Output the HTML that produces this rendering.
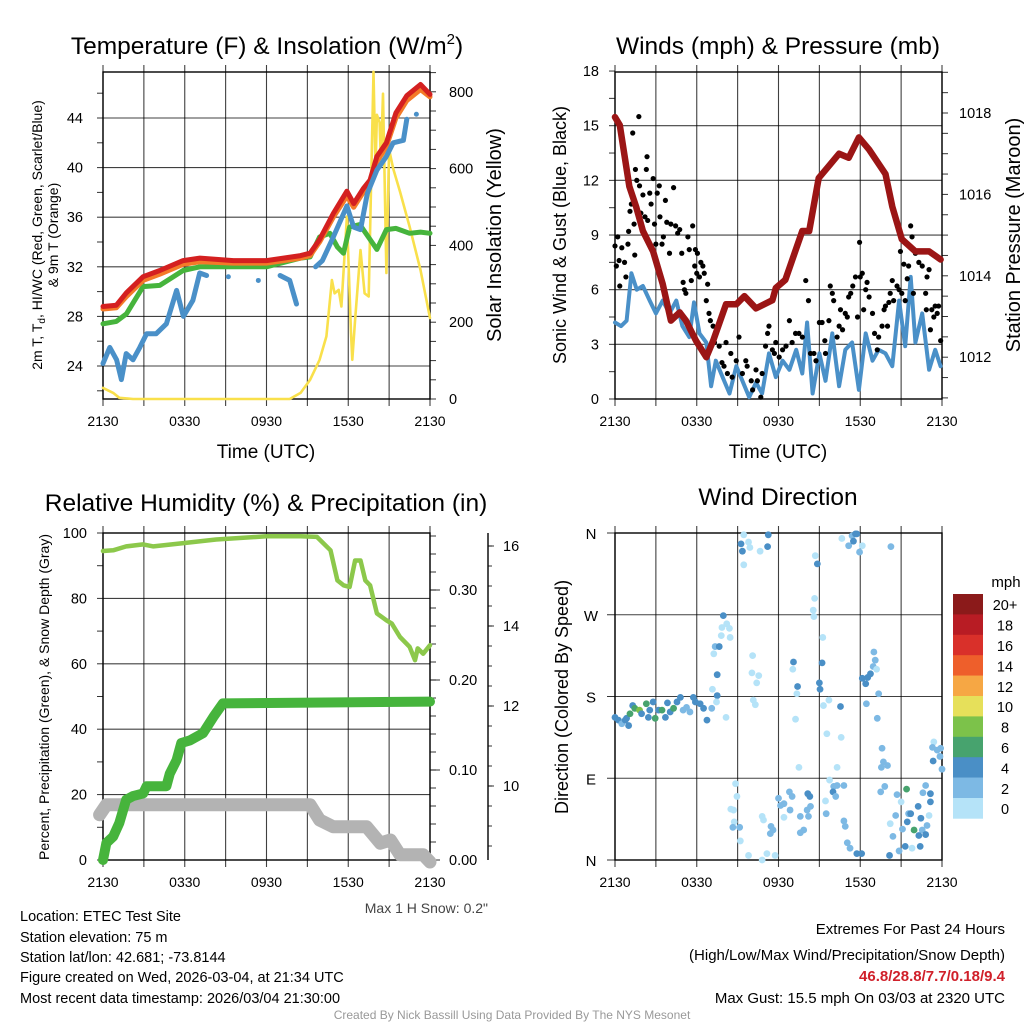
<!DOCTYPE html>
<html><head><meta charset="utf-8">
<style>
html,body{margin:0;padding:0;background:#fff;}
svg{display:block;font-family:"Liberation Sans",Arial,sans-serif;}
</style></head>
<body>
<svg id="c" width="1024" height="1024" viewBox="0 0 1024 1024" xmlns="http://www.w3.org/2000/svg">
<rect width="1024" height="1024" fill="#fff"/>
<g id="g1"></g>
<g id="g2"></g>
<g id="g3"></g>
<g id="g4"></g>

<text x="267" y="54" font-size="24.5" text-anchor="middle">Temperature (F) &amp; Insolation (W/m<tspan font-size="15" dy="-10">2</tspan><tspan dy="10">)</tspan></text>
<text x="778" y="54" font-size="24.5" text-anchor="middle">Winds (mph) &amp; Pressure (mb)</text>
<text x="266" y="511" font-size="24.5" text-anchor="middle">Relative Humidity (%) &amp; Precipitation (in)</text>
<text x="778" y="505" font-size="24.5" text-anchor="middle">Wind Direction</text>

<text x="266" y="458" font-size="19" text-anchor="middle">Time (UTC)</text>
<text x="778" y="458" font-size="19" text-anchor="middle">Time (UTC)</text>

<text transform="translate(42,235) rotate(-90)" font-size="14" text-anchor="middle">2m T, T<tspan font-size="10" dy="3">d</tspan><tspan dy="-3">, HI/WC (Red, Green, Scarlet/Blue)</tspan></text>
<text transform="translate(58,235) rotate(-90)" font-size="14" text-anchor="middle">&amp; 9m T (Orange)</text>
<text transform="translate(501,235) rotate(-90)" font-size="20" text-anchor="middle">Solar Insolation (Yellow)</text>
<text transform="translate(566,235) rotate(-90)" font-size="18" text-anchor="middle">Sonic Wind &amp; Gust (Blue, Black)</text>
<text transform="translate(1020,235) rotate(-90)" font-size="20" text-anchor="middle">Station Pressure (Maroon)</text>
<text transform="translate(49,697) rotate(-90)" font-size="14" text-anchor="middle">Percent, Precipitation (Green), &amp; Snow Depth (Gray)</text>
<text transform="translate(568,697) rotate(-90)" font-size="18" text-anchor="middle">Direction (Colored By Speed)</text>

<text x="488" y="913" font-size="14" fill="#444" text-anchor="end">Max 1 H Snow: 0.2"</text>

<g font-size="14.5">
<text x="20" y="921">Location: ETEC Test Site</text>
<text x="20" y="942">Station elevation: 75 m</text>
<text x="20" y="962">Station lat/lon: 42.681; -73.8144</text>
<text x="20" y="982">Figure created on Wed, 2026-03-04, at 21:34 UTC</text>
<text x="20" y="1003">Most recent data timestamp: 2026/03/04 21:30:00</text>
</g>
<g font-size="15" text-anchor="end">
<text x="1005" y="934">Extremes For Past 24 Hours</text>
<text x="1005" y="960">(High/Low/Max Wind/Precipitation/Snow Depth)</text>
<text x="1005" y="981" fill="#d0202a" font-weight="bold">46.8/28.8/7.7/0.18/9.4</text>
<text x="1005" y="1003">Max Gust: 15.5 mph On 03/03 at 2320 UTC</text>
</g>
<text x="512" y="1019" font-size="12" fill="#999" text-anchor="middle">Created By Nick Bassill Using Data Provided By The NYS Mesonet</text>
</svg>
<script>
// ---------- DATA ----------
const timeLabels = ["2130","0330","0930","1530","2130"];
const tempT = [0,0.98,1.72,2.94,4.17,5.88,7.11,9.56,12.0,14.5,15.2,15.9,16.9,17.9,18.4,19.1,19.6,20.1,20.8,21.5,22.3,23.3,24];
const temp2m = [28.8,28.9,29.9,31.2,31.7,32.5,32.7,32.5,32.5,32.9,33.1,34.2,36.3,38.1,37.1,38.3,39.0,40.9,42.0,44.4,45.8,46.7,45.9];
const temp9m = [28.6,28.7,29.6,30.9,31.4,32.2,32.4,32.3,32.3,32.7,32.9,34.0,36.0,37.7,36.8,38.0,38.7,40.5,41.7,44.0,45.4,46.3,45.7];
const dewT = [0,0.98,1.72,2.94,4.17,5.88,7.11,9.56,12.0,14.5,15.2,15.9,16.65,17.2,17.65,18.1,18.85,19.6,20.1,20.8,21.5,22.5,23.3,24];
const dewpoint = [27.4,27.6,28.2,30.4,30.5,31.7,32.0,32.0,32.0,32.7,32.8,34.4,34.7,33.6,33.1,35.2,35.4,34.2,33.4,35.0,35.1,34.7,34.8,34.7];
const wcT = [0,0.5,1.0,1.35,1.7,2.2,2.7,3.2,3.9,4.65,5.4,5.9,6.6,7.1,7.6,null,9.2,null,11.4,null,13.0,13.7,14.2,null,15.6,16.1,16.9,17.9,18.4,18.9,19.4,20.1,20.8,21.3,22.05,22.3,null,23.0];
const windChill = [24.2,25.5,24.5,22.9,25.0,24.5,25.5,26.6,26.6,27.4,30.1,28.0,29.3,31.5,31.3,null,31.2,null,30.9,null,31.3,30.9,29.0,null,32.0,32.5,34.4,36.9,35.2,35.0,37.9,39.8,40.9,42.0,42.2,43.9,null,44.3];
const solarT = [0,0.75,1.2,2.2,13.7,14.5,15.2,15.9,16.4,16.8,17.0,17.3,17.5,17.9,18.2,18.3,18.5,18.9,19.2,19.5,19.85,20.0,20.1,20.3,20.4,20.55,20.8,21.0,21.3,21.8,22.5,23.3,24];
const solar = [29,16,3,0,0,16,50,102,163,310,275,284,241,475,172,102,206,388,275,267,852,600,740,720,620,795,328,650,600,540,449,336,211];
const windT = [0,0.45,0.85,1.2,1.6,2.05,2.55,3.0,3.5,4.0,4.5,4.95,5.45,5.8,6.2,6.7,7.05,7.4,7.9,8.4,8.9,9.35,9.85,10.35,10.8,11.3,11.8,12.3,12.8,13.3,13.75,14.1,14.5,15.0,15.45,15.95,16.45,16.9,17.4,17.9,18.4,18.9,19.35,19.85,20.35,20.85,21.3,21.7,22.05,22.55,23.05,23.5,23.9];
const windSpeed = [4.2,4.0,4.3,6.9,6.0,6.2,5.4,4.7,5.4,4.7,5.4,4.0,3.4,5.3,3.6,3.1,0.7,2.1,1.2,0.3,1.8,1.0,0.1,0.9,0.3,2.5,1.2,2.1,1.6,2.7,1.4,4.2,0.3,2.5,1.0,3.6,0.7,2.7,3.1,0.5,3.6,2.1,2.7,2.5,1.8,5.4,2.9,6.7,3.1,4.7,1.6,2.7,1.8];
const gustT = [0,0.1,0.2,0.3,0.35,0.5,0.7,0.8,0.95,1.0,1.1,1.2,1.3,1.4,1.45,1.5,1.6,1.75,1.8,1.9,2.05,2.2,2.3,2.35,2.4,2.55,2.65,2.8,2.9,3.0,3.1,3.25,3.3,3.45,3.55,3.7,3.8,4.0,4.1,4.3,4.45,4.6,4.75,4.9,5.0,5.1,5.2,5.35,5.45,5.6,5.7,5.85,5.9,6.0,6.05,6.2,6.3,6.45,6.55,6.7,6.8,6.9,7.0,7.2,7.3,7.4,7.65,7.85,8.0,8.15,8.25,8.5,8.6,8.9,9.1,9.35,9.6,9.7,10.0,10.1,10.35,10.45,10.7,10.8,11.05,11.2,11.3,11.55,11.7,11.8,12.05,12.3,12.55,12.8,13.0,13.25,13.5,13.75,14.0,14.2,14.35,14.6,14.75,15.0,15.2,15.4,15.45,15.7,15.8,15.95,16.05,16.3,16.45,16.55,16.7,16.9,17.05,17.15,17.3,17.45,17.65,17.8,17.95,18.0,18.15,18.25,18.4,18.5,18.65,18.9,19.05,19.25,19.35,19.6,19.75,19.85,20.0,20.1,20.2,20.35,20.45,20.7,20.85,20.95,21.05,21.2,21.3,21.45,21.55,21.7,21.8,21.9,22.05,22.3,22.55,22.8,22.85,22.9,23.05,23.15,23.25,23.4,23.5,23.65,23.75,23.9];
const gust = [8.4,7.3,8.9,7.6,6.2,8.3,7.5,6.7,8.5,9.2,10.3,10.7,14.6,9.6,7.9,12.6,12.0,15.5,11.7,10.2,11.2,10.0,12.6,13.3,9.8,11.3,10.7,12.1,9.6,8.5,11.3,11.7,10.0,8.5,8.9,10.9,9.7,8.0,9.6,11.6,9.5,9.1,9.3,8.0,6.4,6.0,5.8,8.9,8.2,6.5,9.5,7.3,8.2,6.9,8.0,6.7,7.5,7.3,6.9,5.4,6.3,4.7,4.3,4.0,3.1,3.6,2.9,2.0,1.8,3.1,1.4,2.5,1.2,2.1,3.4,1.4,2.1,1.8,1.0,0.5,1.6,1.0,0.1,1.4,2.9,3.6,4.0,2.7,2.5,3.1,2.3,2.7,2.9,4.3,3.1,3.6,3.6,3.4,6.5,5.4,2.5,2.5,2.1,4.2,4.2,3.2,2.5,4.3,6.2,5.8,5.4,3.4,4.0,4.9,3.8,4.7,4.5,5.6,5.8,6.2,6.7,4.5,8.6,6.7,6.9,4.9,6.0,6.4,5.6,4.7,3.6,2.7,3.4,4.0,4.9,5.1,4.0,5.3,5.8,6.5,5.4,6.2,6.0,8.1,5.8,7.4,5.4,6.6,7.3,9.5,8.9,5.8,8.0,7.5,7.3,5.8,4.9,6.7,7.1,3.8,4.9,4.5,5.1,4.7,5.1,3.2];
const presT = [0,0.35,1.05,1.55,2.05,2.8,3.5,4.1,4.75,5.2,5.95,6.7,7.2,8.15,8.9,9.5,10.35,11.55,11.8,12.5,13.75,14.25,14.95,15.7,16.45,17.15,17.9,18.65,19.85,20.35,21.05,22.05,23.05,23.9];
const pressure = [1017.9,1017.7,1016.2,1015.7,1015.1,1014.6,1013.8,1012.9,1013.1,1012.9,1012.4,1012.0,1012.4,1013.3,1013.3,1013.5,1013.2,1013.4,1013.7,1013.9,1015.1,1015.1,1016.4,1016.7,1017.0,1016.9,1017.4,1017.1,1016.5,1015.7,1014.9,1014.6,1014.6,1014.4];
const rhT = [0,0.75,1.7,2.95,3.7,5.9,8.3,12.0,14.5,15.7,16.7,17.2,17.65,18.1,18.5,18.9,19.25,19.6,20.1,20.8,21.2,21.8,22.5,22.9,23.1,23.5,24];
const rh = [94.5,94.7,95.9,96.5,95.9,96.9,98.0,99.0,99.0,98.8,94.7,85.5,84.0,83.5,91.6,91.6,85.5,84.0,75.4,73.3,72.3,68.2,65.2,61.1,64.7,63.1,65.7];
const precipT = [0,0.25,0.75,1.2,1.7,2.2,2.95,3.2,4.65,4.9,5.4,5.75,6.4,7.35,8.1,8.8,24];
const precip = [0,0.019,0.026,0.041,0.067,0.071,0.074,0.082,0.082,0.096,0.111,0.130,0.133,0.141,0.159,0.174,0.176];
const snowT = [-0.25,0.25,15.2,15.9,16.9,19.35,20.35,21.1,21.8,23.5,24];
const snow = [9.28,9.53,9.53,9.15,8.98,8.98,8.57,8.65,8.28,8.28,8.1];
const dirT = [0.0,0.25,0.5,0.75,1.0,0.85,1.1,1.3,1.45,1.8,1.95,2.3,2.45,2.55,2.8,2.95,3.2,3.45,3.7,3.85,4.05,4.3,4.55,4.8,5.0,5.25,5.5,5.75,5.9,6.25,6.5,6.75,7.1,7.5,7.45,8.15,7.15,7.25,7.35,7.65,7.95,7.85,8.2,8.4,8.45,7.8,7.5,9.25,9.35,9.45,9.8,9.9,10.65,11.25,11.2,9.45,10.1,10.05,10.55,10.4,10.15,10.3,8.85,8.95,8.5,8.7,8.75,8.65,9.15,9.2,9.8,10.8,11.15,11.75,10.8,10.9,11.45,11.6,11.4,12.0,12.4,12.15,12.4,12.8,13.0,12.85,13.1,13.05,13.4,13.35,13.25,13.5,14.15,14.3,13.6,14.1,14.35,14.2,13.85,13.6,14.7,14.85,14.65,14.55,14.6,15.25,15.2,15.0,15.05,15.7,15.3,16.55,15.55,16.6,16.3,15.75,16.05,16.0,16.3,16.8,16.2,15.45,15.5,16.8,16.9,17.05,17.25,17.75,18.1,16.65,17.15,17.4,17.65,17.75,17.5,18.15,17.95,20.25,18.15,18.4,18.55,18.75,18.95,19.1,19.0,19.2,18.45,19.35,19.25,19.6,19.7,19.55,20.0,19.8,19.5,20.2,20.6,20.4,21.1,21.95,21.4,20.7,21.0,21.55,21.7,21.45,21.3,21.8,22.4,22.25,22.45,22.6,22.8,23.05,23.15,23.15,22.9,22.55,22.8,22.3,20.15,20.85,23.4,23.3,23.65,23.9,23.85,24.0,23.35];
const dirDeg = [157,154,150,154,148,156,161,170,167,165,161,172,157,165,174,156,165,165,157,173,163,167,174,179,165,168,163,179,174,172,167,154,167,181,174,157,188,227,235,235,269,256,260,255,245,247,204,348,340,358,350,344,340,358,345,325,225,206,203,195,176,171,84,70,56,55,42,36,36,21,5,0,7,5,48,44,37,33,29,68,62,60,47,75,70,55,218,210,191,183,155,102,73,70,48,55,59,48,33,30,335,326,288,275,268,245,217,195,188,176,170,169,139,135,102,88,81,75,82,82,70,65,51,43,37,19,13,7,7,354,346,357,359,359,351,346,339,345,200,194,201,205,213,220,229,210,172,183,156,123,108,102,104,81,75,40,49,26,34,33,78,72,64,51,51,42,15,13,15,59,46,74,82,49,64,73,38,33,28,27,5,10,130,124,121,123,114,100,109];
const dirSpeed = [5,5,3,5,5,5,7,5,7,9,5,7,5,5,5,7,5,7,5,5,5,7,5,5,3,3,3,5,5,5,5,5,3,5,1,1,1,1,3,5,5,1,1,1,1,1,5,5,5,1,1,1,1,5,5,1,1,1,1,1,1,1,1,1,1,1,1,3,3,1,1,1,1,1,1,1,3,3,3,3,3,3,1,3,3,3,5,1,5,1,1,1,5,5,3,3,3,3,3,3,1,5,1,1,1,1,5,5,5,1,1,5,1,1,1,1,3,5,3,3,3,1,3,3,3,3,3,5,5,1,3,3,5,5,5,1,3,3,5,5,5,5,3,3,3,1,3,3,3,3,3,3,3,3,3,1,3,3,3,7,7,3,1,3,5,5,5,1,5,5,5,3,3,1,5,5,3,3,5,5,5,3,1,3,3,3,3,3,5,3];
const speedBins = ["0","2","4","6","8","10","12","14","16","18","20+"];
const binColors = ["#b5e3f8","#7db9e4","#4a8fc6","#47a36e","#7cc24a","#e6e05a","#f6a744","#ee5f2b","#d9302a","#b81c24","#8b1a1a"];

// ---------- DRAWING ----------
const NS = "http://www.w3.org/2000/svg";
function mk(tag, attrs, parent){
  const e = document.createElementNS(NS, tag);
  for (const k in attrs) e.setAttribute(k, attrs[k]);
  parent.appendChild(e);
  return e;
}
const P1={x0:103,x1:430,y0:72,y1:399}, P2={x0:615,x1:942,y0:72,y1:399},
      P3={x0:103,x1:430,y0:533,y1:860}, P4={x0:615,x1:942,y0:533,y1:860};
function xs(P){ return t => P.x0 + t/24*(P.x1-P.x0); }
const tempY = v => 118 + (44-v)*12.4;
const solY = v => 399 - v*0.384;
const windY = v => 399 - v*18.22;
const presY = v => 113 + (1018-v)*40.7;
const rhY = v => 860 - v*3.27;
const prY = v => 860 - v*900;
const snY = v => 786 - (v-10)*40;
const dirY = d => 860 - d*(327/360);

function pathD(T, V, X, Y){
  let d = "", pen = false; const singles = [];
  for (let i=0;i<T.length;i++){
    if (T[i]===null || V[i]===null){ pen=false; continue; }
    const prevNull = (i===0 || T[i-1]===null);
    const nextNull = (i===T.length-1 || T[i+1]===null);
    if (prevNull && nextNull) singles.push([X(T[i]),Y(V[i])]);
    d += (pen ? "L" : "M") + X(T[i]).toFixed(1) + "," + Y(V[i]).toFixed(1);
    pen = true;
  }
  return {d, singles};
}
function series(g, T, V, X, Y, color, w, name){
  const r = pathD(T,V,X,Y);
  const p = mk("path",{d:r.d,fill:"none",stroke:color,"stroke-width":w,"stroke-linejoin":"round","stroke-linecap":"round"},g);
  
  
  r.singles.forEach(s=>{
    const c = mk("circle",{cx:s[0],cy:s[1],r:w/2,fill:color},g);
    
    
  });
}
function frame(g, P, yvals, Yf, xlabels, prefix){
  const X = xs(P);
  for (let i=0;i<=8;i++){
    const x = X(i*3);
    const l = mk("line",{x1:x,x2:x,y1:P.y0-7,y2:P.y1+7,stroke:"#000","stroke-width":1.1,"stroke-opacity":0.75},g);
    
    
  }
  yvals.forEach(v=>{
    const y = Yf(v);
    const l = mk("line",{x1:P.x0,x2:P.x1,y1:y,y2:y,stroke:"#000","stroke-width":1.1,"stroke-opacity":0.75},g);
    
    
  });
  const b = mk("rect",{x:P.x0,y:P.y0,width:P.x1-P.x0,height:P.y1-P.y0,fill:"none",stroke:"#000","stroke-width":1.4},g);
  
  
  if (xlabels){
    xlabels.forEach((s,i)=>{
      const t = mk("text",{x:X(i*6),y:P.y1+27,"font-size":14,"text-anchor":"middle"},g);
      t.textContent = s;
      
      
    });
  }
}
function yTicks(g, x, vals, Yf, side, len, labels, lx, anchor, prefix){
  vals.forEach(v=>{
    const y = Yf(v);
    const l = mk("line",{x1:x,x2:x+side*len,y1:y,y2:y,stroke:"#000","stroke-width":1,"stroke-opacity":0.8},g);
    
    
  });
  if (labels){
    labels.forEach(([v,s])=>{
      const t = mk("text",{x:lx,y:Yf(v)+5,"font-size":14.5,"text-anchor":anchor},g);
      t.textContent = s;
      
      
    });
  }
}
function range(a,b,s){ const r=[]; for(let v=a; v<=b+1e-9; v+=s) r.push(+v.toFixed(4)); return r; }

(function(){
  const g = document.getElementById("g1"), P=P1, X=xs(P);
  frame(g,P,[24,28,32,36,40,44],tempY,timeLabels,"temp");
  yTicks(g,P.x0,range(22,46,2),tempY,-1,6,[[24,"24"],[28,"28"],[32,"32"],[36,"36"],[40,"40"],[44,"44"]],P.x0-20,"end","temp-y");
  yTicks(g,P.x1,range(0,850,50),solY,1,6,[[0,"0"],[200,"200"],[400,"400"],[600,"600"],[800,"800"]],P.x1+19,"start","solar-y");
  series(g,solarT,solar,X,solY,"#f9e04b",2.6,"solar-insolation-line");
  series(g,dewT,dewpoint,X,tempY,"#46b43c",5,"dewpoint-line");
  series(g,tempT,temp9m,X,tempY,"#f47a28",5,"temp-9m-line");
  series(g,tempT,temp2m,X,tempY,"#d42020",5,"temp-2m-line");
  series(g,wcT,windChill,X,tempY,"#4a90c8",5,"wind-chill-line");
})();
(function(){
  const g = document.getElementById("g2"), P=P2, X=xs(P);
  frame(g,P,[3,6,9,12,15],windY,timeLabels,"winds");
  yTicks(g,P.x0,range(0,18,1.5),windY,-1,6,[[0,"0"],[3,"3"],[6,"6"],[9,"9"],[12,"12"],[15,"15"],[18,"18"]],P.x0-16,"end","wind-y");
  yTicks(g,P.x1,range(1011,1019,0.5),presY,1,6,[[1012,"1012"],[1014,"1014"],[1016,"1016"],[1018,"1018"]],P.x1+17,"start","pressure-y");
  series(g,windT,windSpeed,X,windY,"#4a90c8",4,"sonic-wind-line");
  gustT.forEach((t,i)=>{
    const c = mk("circle",{cx:X(t),cy:windY(gust[i]),r:2.6,fill:"#000"},g);
    
    
  });
  series(g,presT,pressure,X,presY,"#9b1515",6.5,"pressure-line");
})();
(function(){
  const g = document.getElementById("g3"), P=P3, X=xs(P);
  frame(g,P,[20,40,60,80],rhY,timeLabels,"humidity");
  yTicks(g,P.x0,range(0,100,10),rhY,-1,6,[[0,"0"],[20,"20"],[40,"40"],[60,"60"],[80,"80"],[100,"100"]],P.x0-16,"end","percent-y");
  yTicks(g,P.x1,range(0,0.36,0.02),prY,1,6,null,0,"start","precip-y");
  yTicks(g,P.x1,[0,0.1,0.2,0.3],prY,1,10,[[0,"0.00"],[0.1,"0.10"],[0.2,"0.20"],[0.3,"0.30"]],P.x1+19,"start","precip-y-major");
  const ax = mk("line",{x1:488,x2:488,y1:533,y2:860,stroke:"#000","stroke-width":1.4},g);
  
  
  yTicks(g,488,range(8.5,16,0.5),snY,1,4,null,0,"start","snow-y");
  yTicks(g,488,[10,12,14,16],snY,1,6,[[10,"10"],[12,"12"],[14,"14"],[16,"16"]],503,"start","snow-y-major");
  series(g,snowT,snow,X,snY,"#b3b3b3",13,"snow-depth-line");
  series(g,precipT,precip,X,prY,"#46b43c",10,"precipitation-line");
  series(g,rhT,rh,X,rhY,"#8cc84b",4.5,"relative-humidity-line");
})();
(function(){
  const g = document.getElementById("g4"), P=P4, X=xs(P);
  frame(g,P,[90,180,270],dirY,timeLabels,"direction");
  yTicks(g,P.x0,[0,90,180,270,360],dirY,-1,8,null,0,"end","direction-y");
  [[0,"N"],[90,"E"],[180,"S"],[270,"W"],[360,"N"]].forEach(([v,s])=>{
    const t = mk("text",{x:591,y:dirY(v)+6,"font-size":15,"text-anchor":"middle"},g);
    t.textContent = s;
    
    
  });
  dirT.forEach((t,i)=>{
    const bin = Math.min(10, Math.floor(dirSpeed[i]/2));
    const c = mk("circle",{cx:X(t),cy:dirY(dirDeg[i]),r:3.4,fill:binColors[bin]},g);
    
    
  });
  const lg = mk("g",{},g);
  
  
  const mt = mk("text",{x:1006,y:587,"font-size":15,"text-anchor":"middle"},lg);
  mt.textContent = "mph";
  
  
  const top=594, h=20.4;
  speedBins.forEach((s,i)=>{
    const k = 10-i;
    const r = mk("rect",{x:953,y:top+i*h,width:30,height:h+0.3,fill:binColors[k]},lg);
    
    
    const t = mk("text",{x:1005,y:top+i*h+h/2+6,"font-size":14.5,"text-anchor":"middle"},lg);
    t.textContent = speedBins[k];
    
    
  });
})();
</script>
</body></html>
